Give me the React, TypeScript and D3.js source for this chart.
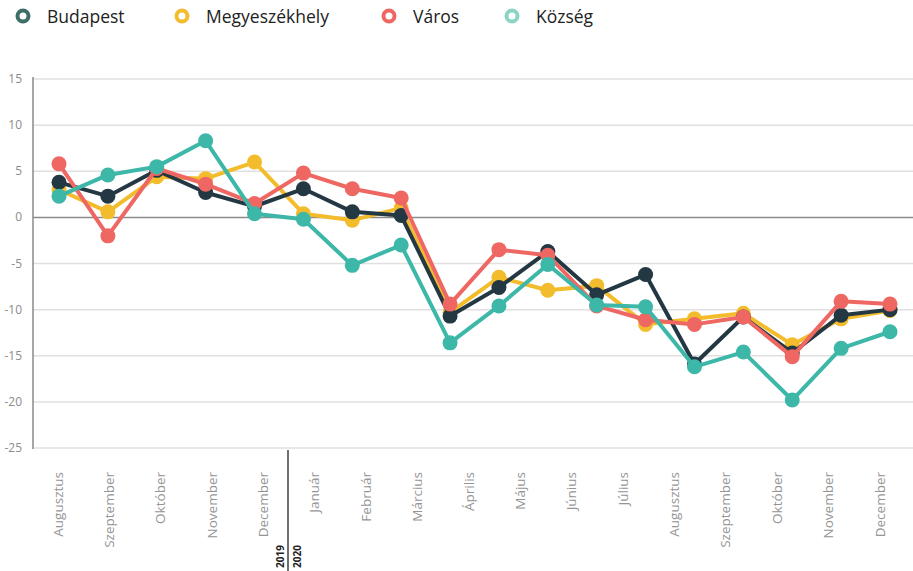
import React from "react";
import * as d3 from "d3";

// x-axis labels (17) — the chart has 18 points per series
const months = [
  "Augusztus", "Szeptember", "Október", "November", "December",
  "Január", "Február", "Március", "Április", "Május", "Június",
  "Július", "Augusztus", "Szeptember", "Október", "November", "December",
];

const yTicks = [15, 10, 5, 0, -5, -10, -15, -20, -25];

const budapest = [3.8, 2.3, 5.1, 2.7, 1.2, 3.1, 0.6, 0.2, -10.7, -7.6, -3.7, -8.4, -6.2, -15.9, -10.8, -14.7, -10.6, -10.0];
const megyeszekhely = [3.0, 0.6, 4.4, 4.2, 6.0, 0.4, -0.3, 1.0, -10.3, -6.5, -7.9, -7.4, -11.6, -11.0, -10.4, -13.8, -11.0, -10.1];
const varos = [5.8, -2.0, 5.3, 3.6, 1.5, 4.8, 3.1, 2.1, -9.4, -3.5, -4.1, -9.6, -11.1, -11.6, -10.8, -15.1, -9.1, -9.4];
const kozseg = [2.3, 4.6, 5.5, 8.3, 0.4, -0.2, -5.2, -3.0, -13.6, -9.6, -5.1, -9.5, -9.7, -16.2, -14.6, -19.8, -14.2, -12.4];

const series = [
  { name: "Megyeszékhely", values: megyeszekhely, color: "#f2bc2c", legend: "#f2bc2c" },
  { name: "Budapest", values: budapest, color: "#233843", legend: "#3f6e66" },
  { name: "Város", values: varos, color: "#ef6762", legend: "#ef6762" },
  { name: "Község", values: kozseg, color: "#3cb7a8", legend: "#8dd3c8" },
];

const legendOrder = ["Budapest", "Megyeszékhely", "Város", "Község"];
const legendX = [23, 182, 389, 512];

export default function App() {
  const width = 913;
  const height = 571;
  const axisX = 33;

  const y = d3.scaleLinear().domain([-25, 15]).range([448, 79]);
  const xData = d3.scalePoint<number>().domain(d3.range(budapest.length)).range([59, 890]);
  const xLabel = d3.scalePoint<number>().domain(d3.range(months.length)).range([58, 880]);

  const line = d3
    .line<number>()
    .x((_, i) => xData(i)!)
    .y((d) => y(d));

  const font = "'Open Sans', 'Noto Sans', sans-serif";

  return (
    <svg width={width} height={height} style={{ position: "absolute", left: 0, top: 0, background: "#fff" }}>
      {/* legend */}
      {legendOrder.map((name, i) => {
        const s = series.find((d) => d.name === name)!;
        return (
          <g key={name} transform={`translate(${legendX[i]},16)`}>
            <circle r={5.5} fill="#fff" stroke={s.legend} strokeWidth={4} />
            <text x={24} y={6.5} fontFamily={font} fontSize={17.5} fill="#222">
              {name}
            </text>
          </g>
        );
      })}

      {/* grid */}
      {yTicks.map((t) => (
        <g key={t}>
          <line
            x1={axisX}
            x2={width}
            y1={y(t)}
            y2={y(t)}
            stroke={t === 0 ? "#8a8a8a" : "#e0e0e0"}
            strokeWidth={1.5}
          />
          <text x={22} y={y(t) + 4} textAnchor="end" fontFamily={font} fontSize={12} fill="#8c8c8c">
            {t}
          </text>
        </g>
      ))}
      <line x1={axisX} x2={axisX} y1={77} y2={449} stroke="#8a8a8a" strokeWidth={1.5} />

      {/* x labels */}
      {months.map((m, i) => (
        <text
          key={i}
          transform={`translate(${xLabel(i)! + 4.5},472) rotate(-90)`}
          textAnchor="end"
          fontFamily={font}
          fontSize={13.5}
          fill="#959595"
        >
          {m}
        </text>
      ))}

      {/* year separator */}
      <line x1={288} x2={288} y1={450} y2={571} stroke="#222" strokeWidth={1.3} />
      <text transform="translate(284,568) rotate(-90)" fontFamily={font} fontSize={10} fontWeight="bold" fill="#222">
        2019
      </text>
      <text transform="translate(301,568) rotate(-90)" fontFamily={font} fontSize={10} fontWeight="bold" fill="#222">
        2020
      </text>

      {/* series */}
      {series.map((s) => (
        <g key={s.name}>
          <path d={line(s.values)!} fill="none" stroke={s.color} strokeWidth={4} strokeLinejoin="round" />
          {s.values.map((v, i) => (
            <circle key={i} cx={xData(i)} cy={y(v)} r={7.5} fill={s.color} />
          ))}
        </g>
      ))}
    </svg>
  );
}
